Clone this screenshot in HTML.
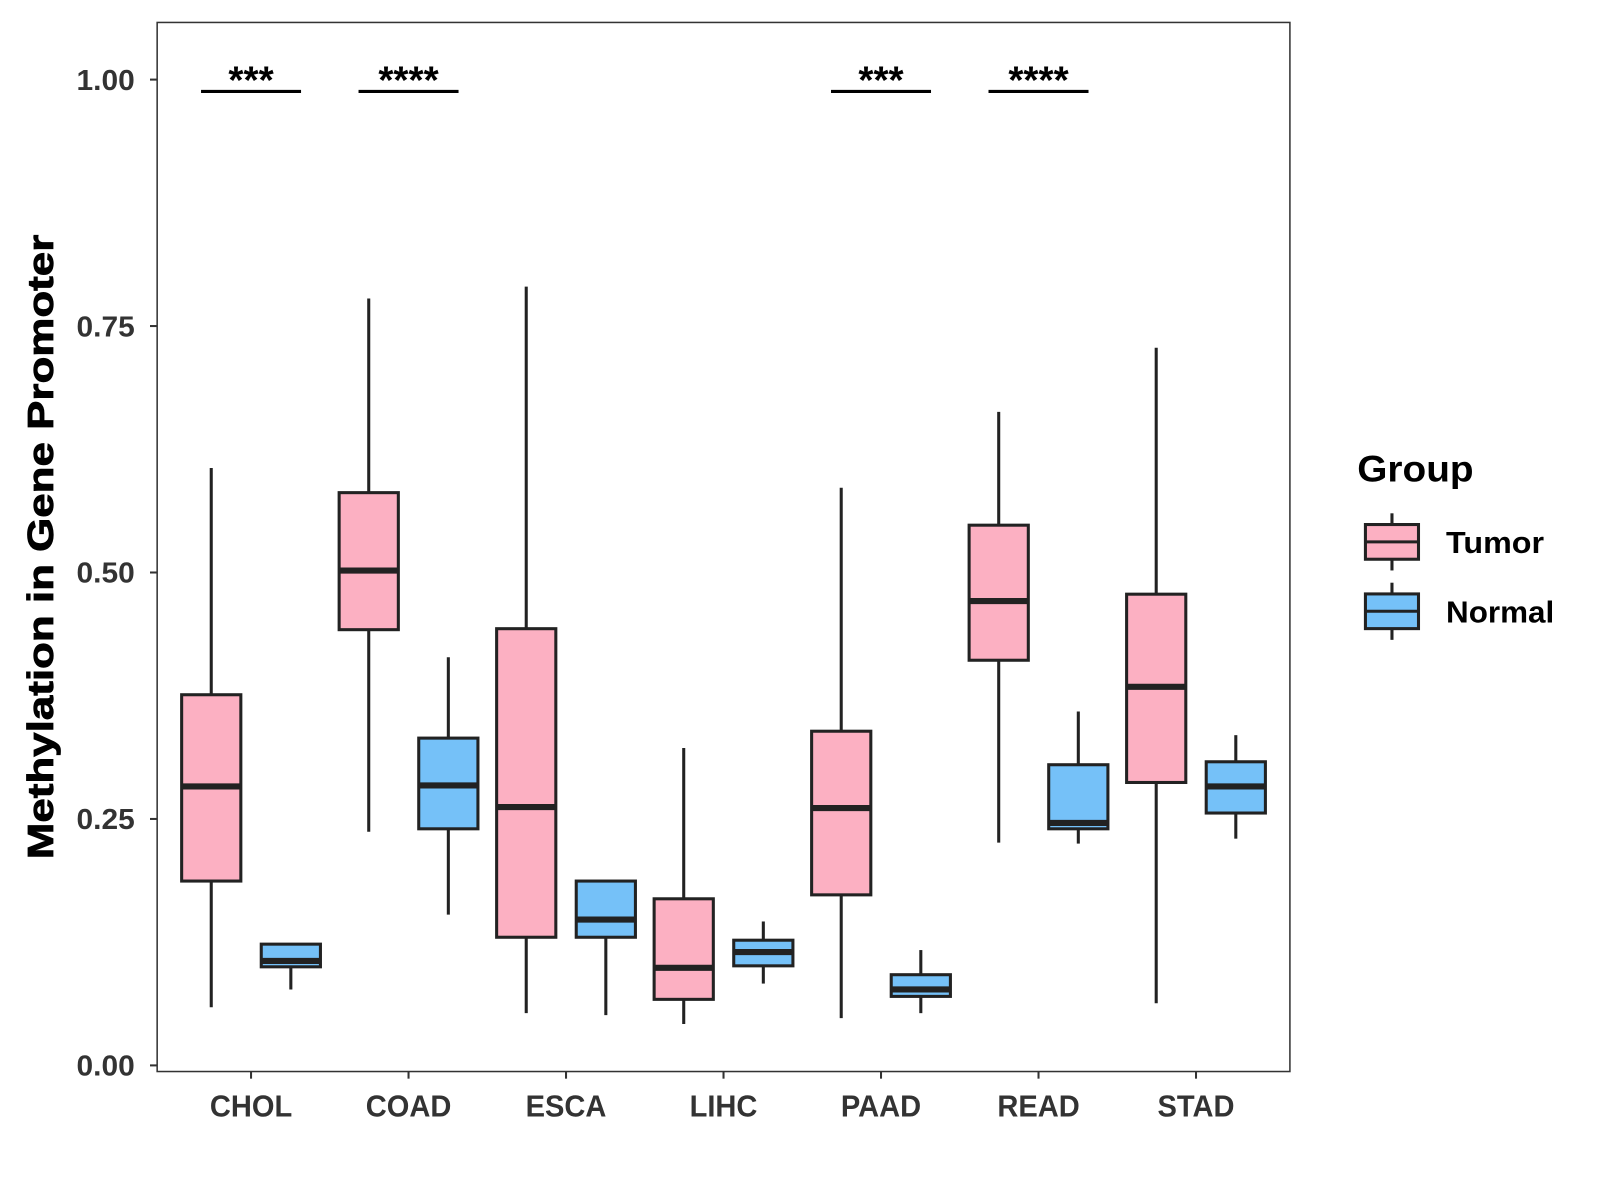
<!DOCTYPE html>
<html><head><meta charset="utf-8"><style>
body{margin:0;background:#fff}
svg{display:block;font-family:"Liberation Sans",Arial,sans-serif}
</style></head><body>
<svg width="1600" height="1200" xmlns="http://www.w3.org/2000/svg"><g id="chart" transform="scale(1.0205)"></g></svg>
<script>
const categories=["CHOL","COAD","ESCA","LIHC","PAAD","READ","STAD"];
// [lower whisker, q1, median, q3, upper whisker]
const tumorStats=[[0.059,0.187,0.283,0.376,0.606],[0.237,0.442,0.502,0.581,0.778],[0.053,0.130,0.262,0.443,0.790],[0.042,0.067,0.099,0.169,0.322],[0.048,0.173,0.261,0.339,0.586],[0.226,0.411,0.471,0.548,0.663],[0.063,0.287,0.384,0.478,0.728]];
const normalStats=[[0.077,0.100,0.106,0.123,0.123],[0.153,0.240,0.284,0.332,0.414],[0.051,0.130,0.148,0.187,0.187],[0.083,0.101,0.115,0.127,0.146],[0.053,0.070,0.077,0.092,0.117],[0.225,0.240,0.246,0.305,0.359],[0.230,0.256,0.283,0.308,0.335]];
const sigLabels=["***","****","","","***","****",""];
const sigLevel=0.988;
const yTicks=[0,0.25,0.5,0.75,1.0];
const yTickLabels=["0.00","0.25","0.50","0.75","1.00"];

const NS="http://www.w3.org/2000/svg";
const svg=document.getElementById("chart");
const P={l:154,r:1264,t:22,b:1050};
const y=v=>1044-v*966;
const x=i=>246+i*154.33;
function mk(t,a,parent){const e=document.createElementNS(NS,t);for(const k in a)e.setAttribute(k,a[k]);(parent||svg).appendChild(e);return e;}

const panel=mk("rect",{x:P.l,y:P.t,width:P.r-P.l,height:P.b-P.t,fill:"#fff",stroke:"#333","stroke-width":1.5});



yTicks.forEach((v,i)=>{
  const t=mk("line",{x1:147,x2:P.l,y1:y(v),y2:y(v),stroke:"#333","stroke-width":2});
  
  
  const l=mk("text",{x:132,y:y(v)+10,"text-anchor":"end","font-size":28,"font-weight":"bold",fill:"#333",textLength:57,lengthAdjust:"spacingAndGlyphs"});
  l.textContent=yTickLabels[i];
  
  
});
categories.forEach((c,i)=>{
  const t=mk("line",{x1:x(i),x2:x(i),y1:P.b,y2:P.b+7,stroke:"#333","stroke-width":2});
  
  
  const l=mk("text",{x:x(i),y:1094,"text-anchor":"middle","font-size":30,"font-weight":"bold",fill:"#333",transform:`translate(${x(i)},0) scale(0.95,1) translate(${-x(i)},0)`});
  l.textContent=c;
  
  
});

function box(cx,s,fill,name){
  const g=mk("g",{});
  
  
  const w=29;
  mk("line",{x1:cx,x2:cx,y1:y(s[4]),y2:y(s[3]),stroke:"#222","stroke-width":3},g);
  mk("line",{x1:cx,x2:cx,y1:y(s[1]),y2:y(s[0]),stroke:"#222","stroke-width":3},g);
  mk("rect",{x:cx-w,y:y(s[3]),width:2*w,height:y(s[1])-y(s[3]),fill:fill,stroke:"#222","stroke-width":3},g);
  mk("line",{x1:cx-w,x2:cx+w,y1:y(s[2]),y2:y(s[2]),stroke:"#222","stroke-width":6},g);
}
categories.forEach((c,i)=>{
  box(x(i)-39,tumorStats[i],"#FCB0C2","box-tumor-"+c.toLowerCase());
  box(x(i)+39,normalStats[i],"#75C1F8","box-normal-"+c.toLowerCase());
  if(sigLabels[i]){
    const b=mk("line",{x1:x(i)-49,x2:x(i)+49,y1:y(sigLevel),y2:y(sigLevel),stroke:"#000","stroke-width":3});
    
    
    const t=mk("text",{x:x(i),y:y(sigLevel)+2,"text-anchor":"middle","font-size":38,"font-weight":"bold",fill:"#000"});
    t.textContent=sigLabels[i];
    
    
  }
});

const yt=mk("text",{x:0,y:0,transform:"translate(52,536) rotate(-90)","text-anchor":"middle","font-size":35,"font-weight":"bold",fill:"#000",stroke:"#000","stroke-width":0.8,textLength:612,lengthAdjust:"spacingAndGlyphs"});
yt.textContent="Methylation in Gene Promoter";



const lt=mk("text",{x:1330,y:472,"font-size":36,"font-weight":"bold",fill:"#000",textLength:114,lengthAdjust:"spacingAndGlyphs"});
lt.textContent="Group";


[["Tumor","#FCB0C2",531,96],["Normal","#75C1F8",599,106]].forEach(([n,f,cy,tl])=>{
  const g=mk("g",{});
  
  
  mk("line",{x1:1364,x2:1364,y1:cy-28,y2:cy+28,stroke:"#222","stroke-width":3},g);
  mk("rect",{x:1338,y:cy-17,width:52,height:34,fill:f,stroke:"#222","stroke-width":3},g);
  mk("line",{x1:1338,x2:1390,y1:cy,y2:cy,stroke:"#222","stroke-width":3},g);
  const t=mk("text",{x:1417,y:cy+11,"font-size":30,"font-weight":"bold",fill:"#000",textLength:tl,lengthAdjust:"spacingAndGlyphs"},g);
  t.textContent=n;
});
</script>
</body></html>
